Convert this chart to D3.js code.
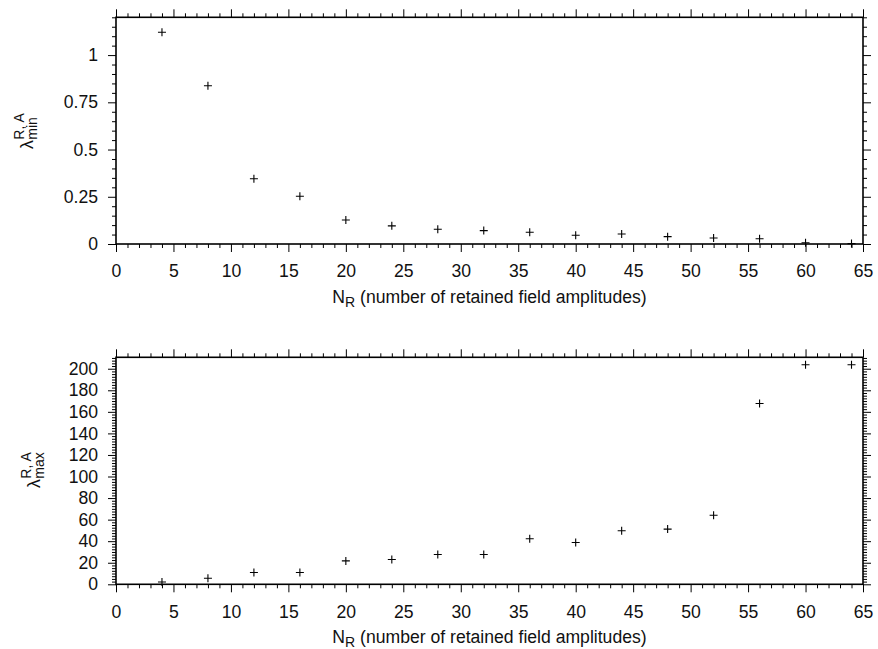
<!DOCTYPE html>
<html>
<head>
<meta charset="utf-8">
<script src="https://cdn.jsdelivr.net/npm/d3@7"></script>
<style>
  html, body { margin: 0; padding: 0; background: #fff; }
  svg { display: block; }
  text { font-family: "Liberation Sans", Arial, Helvetica, sans-serif; fill: #111; }
</style>
</head>
<body>
<svg id="chart" width="878" height="649"></svg>
<script>
// Number of retained field amplitudes
const nRetained = [4, 8, 12, 16, 20, 24, 28, 32, 36, 40, 44, 48, 52, 56, 60, 64];
// Smallest eigenvalue for each truncation
const lambdaMin = [1.121, 0.838, 0.345, 0.253, 0.127, 0.096, 0.078, 0.071, 0.062, 0.046, 0.053, 0.039, 0.032, 0.028, 0.007, 0.002];
// Largest eigenvalue for each truncation
const lambdaMax = [2.2, 5.6, 10.9, 10.9, 21.7, 23.0, 27.6, 27.6, 42.2, 38.8, 49.7, 51.2, 64.0, 167.7, 203.7, 203.7];

// Tick values
const xTicks = [0, 5, 10, 15, 20, 25, 30, 35, 40, 45, 50, 55, 60, 65];
const yTicksMin = [0, 0.25, 0.5, 0.75, 1];
const yTicksMax = [0, 20, 40, 60, 80, 100, 120, 140, 160, 180, 200];

const xLabel = "(number of retained field amplitudes)";

const svg = d3.select("#chart");
const FS = 17.6;
const FS_SMALL = 14;

const left = 116, right = 863;

function panel(opts) {
  const { top, bottom, values, yDomain, yTicks, yMinorStep, yFormat, sub, labelX, labelStartY } = opts;
  const g = svg.append("g");
  const x = d3.scaleLinear().domain([0, 65]).range([left, right]);
  const y = d3.scaleLinear().domain(yDomain).range([bottom, top]);

  const xMinor = d3.range(0, 65.001, 1).filter(v => v % 5 !== 0);
  const yMinor = d3.range(yDomain[0], yDomain[1] + 1e-9, yMinorStep)
    .filter(v => !yTicks.some(t => Math.abs(t - v) < 1e-9));

  const tickStyle = sel => {
    sel.select(".domain").remove();
    sel.selectAll("line").attr("stroke", "#000").attr("stroke-width", 1);
    sel.selectAll("text").style("font-size", FS + "px").attr("fill", "#111");
  };

  // bottom axis
  g.append("g").attr("transform", `translate(0,${bottom})`)
    .call(d3.axisBottom(x).tickValues(xTicks).tickSize(8).tickPadding(13).tickFormat(d3.format("d")))
    .call(tickStyle);
  g.append("g").attr("transform", `translate(0,${bottom})`)
    .call(d3.axisBottom(x).tickValues(xMinor).tickSize(4).tickFormat(""))
    .call(tickStyle);
  // top axis (mirror)
  g.append("g").attr("transform", `translate(0,${top})`)
    .call(d3.axisTop(x).tickValues(xTicks).tickSize(8).tickFormat(""))
    .call(tickStyle);
  g.append("g").attr("transform", `translate(0,${top})`)
    .call(d3.axisTop(x).tickValues(xMinor).tickSize(4).tickFormat(""))
    .call(tickStyle);
  // left axis
  g.append("g").attr("transform", `translate(${left},0)`)
    .call(d3.axisLeft(y).tickValues(yTicks).tickSize(8).tickPadding(10).tickFormat(yFormat))
    .call(tickStyle);
  g.append("g").attr("transform", `translate(${left},0)`)
    .call(d3.axisLeft(y).tickValues(yMinor).tickSize(4).tickFormat(""))
    .call(tickStyle);
  // right axis (mirror)
  g.append("g").attr("transform", `translate(${right},0)`)
    .call(d3.axisRight(y).tickValues(yTicks).tickSize(8).tickFormat(""))
    .call(tickStyle);
  g.append("g").attr("transform", `translate(${right},0)`)
    .call(d3.axisRight(y).tickValues(yMinor).tickSize(4).tickFormat(""))
    .call(tickStyle);

  // frame
  g.append("rect")
    .attr("x", left).attr("y", top)
    .attr("width", right - left).attr("height", bottom - top)
    .attr("fill", "none").attr("stroke", "#000").attr("stroke-width", 1.6);

  // points drawn as plus markers
  const r = 4;
  g.append("g").selectAll("path")
    .data(nRetained.map((n, i) => [n, values[i]]))
    .join("path")
    .attr("d", d => {
      const px = x(d[0]), py = y(d[1]);
      return `M${px - r},${py}H${px + r}M${px},${py - r}V${py + r}`;
    })
    .attr("stroke", "#000").attr("stroke-width", 1.1).attr("fill", "none");

  // x label
  const xl = g.append("text")
    .attr("x", (left + right) / 2).attr("y", bottom + 59)
    .attr("text-anchor", "middle")
    .style("font-size", FS + "px");
  xl.append("tspan").text("N");
  xl.append("tspan").attr("dy", 4).style("font-size", FS_SMALL + "px").text("R");
  xl.append("tspan").attr("dy", -4).text(" " + xLabel);

  // y label: lambda with superscript and subscript
  const yl = g.append("g")
    .attr("transform", `translate(${labelX},${labelStartY}) rotate(-90)`);
  const lam = yl.append("text").attr("x", 0).attr("y", 0)
    .style("font-size", FS + "px").text("λ");
  const w = lam.node().getComputedTextLength();
  yl.append("text").attr("x", w + 0.5).attr("y", -9)
    .style("font-size", FS_SMALL + "px").text("R, A");
  yl.append("text").attr("x", w + 0.5).attr("y", 4)
    .style("font-size", FS_SMALL + "px").text(sub);
}

panel({
  top: 17.3, bottom: 244, values: lambdaMin,
  yDomain: [0, 1.2], yTicks: yTicksMin, yMinorStep: 0.05,
  yFormat: d => d === 0 ? "0" : d3.format("~g")(d),
  sub: "min", labelX: 33, labelStartY: 149
});

panel({
  top: 357.3, bottom: 584.3, values: lambdaMax,
  yDomain: [0, 210.6], yTicks: yTicksMax, yMinorStep: 2.5,
  yFormat: d3.format("d"),
  sub: "max", labelX: 39.5, labelStartY: 488
});
</script>
</body>
</html>
